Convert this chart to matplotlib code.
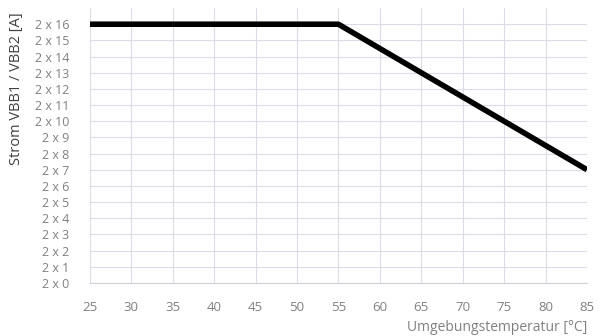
import matplotlib
matplotlib.use('Agg')
import matplotlib.pyplot as plt

# data
temp    = [25, 55, 85]
current = [16, 16, 7]

x_ticks = list(range(25, 90, 5))
y_ticks = list(range(0, 17))
y_labels = ['2 x %d' % v for v in y_ticks]

grid_col = '#dcdce8'
text_col = '#808080'

plt.rcParams['font.family'] = ['Open Sans', 'DejaVu Sans']

fig = plt.figure(figsize=(5.99, 3.36), dpi=100)
ax = fig.add_axes([0.150, 0.158, 0.830, 0.818])

ax.plot(temp, current, color='black', linewidth=4, solid_capstyle='butt', zorder=3)

ax.set_xlim(25, 85)
ax.set_ylim(0, 17)
ax.set_xticks(x_ticks)
ax.set_yticks(y_ticks)
ax.set_yticklabels(y_labels)
ax.grid(True, color=grid_col, linewidth=0.8)
ax.set_axisbelow(True)

for s in ['top', 'right', 'left']:
    ax.spines[s].set_visible(False)
ax.spines['bottom'].set_color('#d0d0d8')
ax.tick_params(length=0, colors=text_col)
ax.tick_params(axis='x', pad=13, labelsize=9.5)
ax.tick_params(axis='y', pad=15, labelsize=9)

ax.set_xlabel('Umgebungstemperatur [°C]', color=text_col, fontsize=10, loc='right', labelpad=4)
fig.text(0.027, 0.735, 'Strom VBB1 / VBB2 [A]', rotation=90, va='center', ha='center',
         fontsize=10.5, color='#404040')

plt.savefig('out.png', dpi=100)
